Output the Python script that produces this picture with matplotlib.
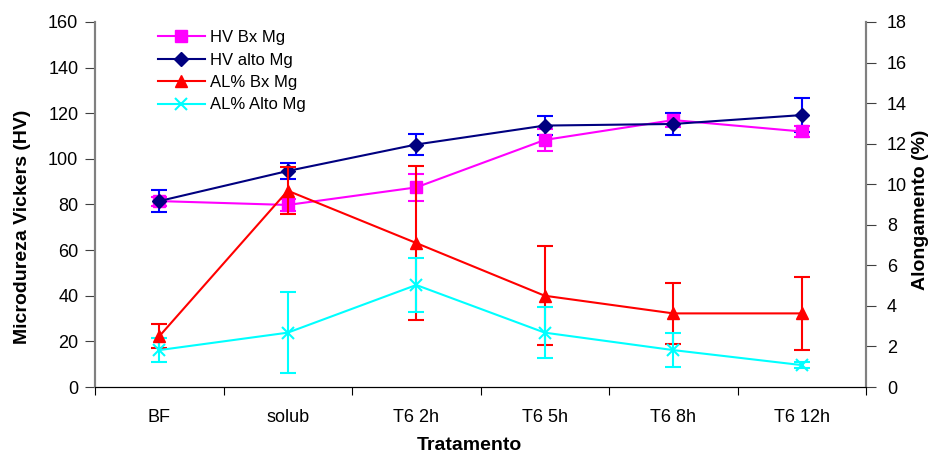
import matplotlib
matplotlib.use("Agg")
import matplotlib.pyplot as plt
import numpy as np

plt.rcParams['font.family'] = ['Liberation Sans', 'DejaVu Sans']

categories = ["BF", "solub", "T6 2h", "T6 5h", "T6 8h", "T6 12h"]

hv_bx = [81.5, 79.8, 87.5, 108.3, 117.0, 112.0]
hv_bx_err = [2.0, 2.5, 5.8, 5.0, 3.0, 2.5]
hv_alto = [81.5, 94.7, 106.3, 114.6, 115.3, 119.2]
hv_alto_err = [5.0, 3.4, 4.5, 4.0, 5.0, 7.5]

al_bx = [2.5, 9.68, 7.1, 4.5, 3.63, 3.63]
al_bx_err = [0.6, 1.15, 3.8, 2.45, 1.5, 1.8]
al_alto = [1.82, 2.68, 5.03, 2.68, 1.82, 1.08]
al_alto_err = [0.6, 2.0, 1.35, 1.25, 0.85, 0.15]

x = np.arange(len(categories))

W, H = 938, 454
fig = plt.figure(figsize=(W / 100, H / 100), dpi=100)
ax = fig.add_axes([95 / W, 1 - 387 / H, (866 - 95) / W, (387 - 22) / H])
ax2 = ax.twinx()

cap = 5.5
h1 = ax.errorbar(x, hv_bx, yerr=hv_bx_err, color='#FF00FF', marker='s', ms=8,
                 lw=1.5, ecolor='#FF00FF', elinewidth=1.5, capsize=cap, capthick=1.5,
                 label='HV Bx Mg')
h2 = ax.errorbar(x, hv_alto, yerr=hv_alto_err, color='#000080', marker='D', ms=7,
                 lw=1.5, ecolor='#0000FF', elinewidth=1.5, capsize=cap, capthick=1.5,
                 label='HV alto Mg')
h3 = ax2.errorbar(x, al_bx, yerr=al_bx_err, color='#FF0000', marker='^', ms=9,
                  lw=1.5, ecolor='#FF0000', elinewidth=1.5, capsize=cap, capthick=1.5,
                  label='AL% Bx Mg')
h4 = ax2.errorbar(x, al_alto, yerr=al_alto_err, color='#00FFFF', marker='x', ms=8,
                  mew=1.5, lw=1.5, ecolor='#00FFFF', elinewidth=1.5, capsize=cap,
                  capthick=1.5, label='AL% Alto Mg')

ax.set_xlim(-0.5, len(categories) - 0.5)
ax.set_ylim(0, 160)
ax.set_yticks(np.arange(0, 161, 20))
ax2.set_ylim(0, 18)
ax2.set_yticks(np.arange(0, 19, 2))

ax.set_xticks(np.arange(-0.5, len(categories), 1.0))
ax.set_xticklabels([])
ax.set_xticks(x, minor=True)
ax.set_xticklabels(categories, minor=True, fontsize=13)
ax.tick_params(axis='x', which='minor', length=0, pad=16)
ax.tick_params(axis='x', which='major', length=6, direction='out', color='black')

ax.tick_params(axis='y', labelsize=13, length=7, direction='out', color='#404040', pad=5)
ax2.tick_params(axis='y', labelsize=13, length=7, direction='out', color='#404040', pad=8)

for a in (ax, ax2):
    a.spines['top'].set_visible(False)
    a.spines['left'].set_color('#808080')
    a.spines['right'].set_color('#808080')
    a.spines['bottom'].set_color('black')
    a.spines['left'].set_linewidth(1.5)
    a.spines['right'].set_linewidth(1.5)

ax.set_ylabel('Microdureza Vickers (HV)', fontsize=14, fontweight='bold')
ax.yaxis.set_label_coords(23 / W, 0.5, transform=fig.transFigure)
ax2.set_ylabel('Alongamento (%)', fontsize=14, fontweight='bold')
ax2.yaxis.set_label_coords(920 / W, 1 - 210 / H, transform=fig.transFigure)
ax.set_xlabel('Tratamento', fontsize=14, fontweight='bold')
ax.xaxis.set_label_coords(0.5, 1 - 445 / H, transform=fig.transFigure)
ax.xaxis.label.set_va('center')
ax.yaxis.label.set_va('center')
ax2.yaxis.label.set_va('center')

handles = [h1[0], h2[0], h3[0], h4[0]]
labels = ['HV Bx Mg', 'HV alto Mg', 'AL% Bx Mg', 'AL% Alto Mg']
ax2.legend(handles, labels, loc='upper left',
           bbox_to_anchor=(158 / W, 1 - 30 / H), bbox_transform=fig.transFigure,
           borderaxespad=0, borderpad=0,
           frameon=False, fontsize=12, handlelength=2.8, labelspacing=0.45,
           handletextpad=0.3)

fig.savefig('out.png', dpi=100)
